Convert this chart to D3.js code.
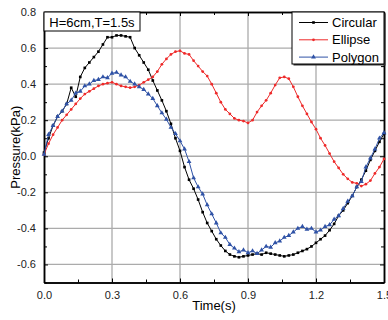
<!DOCTYPE html>
<html>
<head>
<meta charset="utf-8">
<script src="https://cdn.jsdelivr.net/npm/d3@7"></script>
<style>
  body { margin: 0; background: #fff; }
  svg { display: block; font-family: "Liberation Sans", Arial, sans-serif; }
</style>
</head>
<body>
<script>
// time axis, sampled every 0.02 s
const times = d3.range(0, 76).map(i => +(i * 0.02).toFixed(2));

const circular = [
  0.02, 0.10, 0.17, 0.22, 0.25, 0.29, 0.38, 0.33, 0.44, 0.49,
  0.52, 0.55, 0.58, 0.62, 0.66, 0.66, 0.67, 0.67, 0.665, 0.66,
  0.60, 0.56, 0.52, 0.48, 0.42, 0.365, 0.31, 0.25, 0.18, 0.10,
  0.03, -0.06, -0.13, -0.18, -0.24, -0.31, -0.37, -0.415, -0.46, -0.495,
  -0.525, -0.545, -0.555, -0.56, -0.555, -0.55, -0.545, -0.54, -0.545, -0.535,
  -0.54, -0.545, -0.55, -0.555, -0.55, -0.545, -0.535, -0.525, -0.515, -0.50,
  -0.48, -0.46, -0.44, -0.41, -0.375, -0.33, -0.30, -0.26, -0.22, -0.17,
  -0.13, -0.08, -0.02, 0.03, 0.08, 0.125
];

const ellipse = [
  0.01, 0.07, 0.12, 0.16, 0.20, 0.23, 0.26, 0.29, 0.32, 0.345,
  0.36, 0.375, 0.39, 0.40, 0.405, 0.41, 0.40, 0.39, 0.385, 0.38,
  0.385, 0.395, 0.41, 0.425, 0.44, 0.47, 0.51, 0.54, 0.565, 0.58,
  0.585, 0.57, 0.565, 0.53, 0.50, 0.47, 0.445, 0.40, 0.35, 0.30,
  0.26, 0.235, 0.21, 0.20, 0.195, 0.185, 0.20, 0.245, 0.28, 0.31,
  0.35, 0.395, 0.435, 0.44, 0.43, 0.385, 0.33, 0.28, 0.235, 0.19,
  0.15, 0.10, 0.06, 0.015, -0.03, -0.065, -0.10, -0.125, -0.145, -0.15,
  -0.165, -0.155, -0.135, -0.095, -0.06, -0.015
];

const polygon = [
  0.01, 0.12, 0.17, 0.22, 0.25, 0.29, 0.31, 0.35, 0.36, 0.39,
  0.40, 0.42, 0.425, 0.44, 0.435, 0.46, 0.465, 0.45, 0.44, 0.415,
  0.40, 0.385, 0.37, 0.345, 0.32, 0.28, 0.24, 0.205, 0.16, 0.125,
  0.085, 0.04, -0.03, -0.12, -0.17, -0.21, -0.27, -0.32, -0.37, -0.425,
  -0.45, -0.49, -0.51, -0.53, -0.52, -0.535, -0.525, -0.54, -0.52, -0.50,
  -0.505, -0.48, -0.47, -0.45, -0.44, -0.42, -0.40, -0.39, -0.405, -0.40,
  -0.42, -0.41, -0.39, -0.38, -0.35, -0.33, -0.29, -0.25, -0.22, -0.17,
  -0.14, -0.06, -0.01, 0.04, 0.10, 0.13
];

const seriesNames = ["Circular", "Ellipse", "Polygon"];
const seriesValues = [circular, ellipse, polygon];
const seriesColors = ["#000000", "#ee2a2a", "#2f52a6"];
const seriesSymbols = [d3.symbolSquare, d3.symbolCircle, d3.symbolTriangle];
const symbolSizes = [7, 6, 10];

const xTicks = [0.0, 0.3, 0.6, 0.9, 1.2, 1.5];
const yTicks = [-0.6, -0.4, -0.2, 0.0, 0.2, 0.4, 0.6, 0.8];
const xMinor = [0.15, 0.45, 0.75, 1.05, 1.35];
const yMinor = [-0.7, -0.5, -0.3, -0.1, 0.1, 0.3, 0.5, 0.7];

const margin = { top: 12, bottom: 37.5, left: 44, right: 4 };
const W = 388, H = 320;
const width = W - margin.left - margin.right;
const height = H - margin.top - margin.bottom;

const svg = d3.select("body").append("svg").attr("width", W).attr("height", H);
const g = svg.append("g").attr("transform", `translate(${margin.left},${margin.top})`);

const xscale = d3.scaleLinear().domain([0, 1.5]).range([0, width]);
const yscale = d3.scaleLinear().domain([-0.7, 0.8]).range([height, 0]);

// gridlines
g.append("g").selectAll("line").data(xTicks.slice(1, -1)).join("line")
  .attr("x1", d => xscale(d)).attr("x2", d => xscale(d))
  .attr("y1", 0).attr("y2", height)
  .attr("stroke", "#ababab").attr("stroke-width", 1.3);
g.append("g").selectAll("line").data(yTicks.filter(d => d < 0.8)).join("line")
  .attr("x1", 0).attr("x2", width)
  .attr("y1", d => yscale(d)).attr("y2", d => yscale(d))
  .attr("stroke", "#ababab").attr("stroke-width", 1.3);

// axes (ticks inward)
const fmt = d => d.toFixed(1);
g.append("g").attr("transform", `translate(0,${height})`)
  .call(d3.axisBottom(xscale).tickValues(xTicks).tickSizeInner(-4).tickSizeOuter(0).tickPadding(9).tickFormat(fmt));
g.append("g")
  .call(d3.axisLeft(yscale).tickValues(yTicks).tickSizeInner(-4).tickSizeOuter(0).tickPadding(8).tickFormat(fmt));
g.append("g")
  .call(d3.axisTop(xscale).tickValues(xTicks).tickSizeInner(-4).tickSizeOuter(0).tickFormat(""));
g.append("g").attr("transform", `translate(${width},0)`)
  .call(d3.axisRight(yscale).tickValues(yTicks).tickSizeInner(-4).tickSizeOuter(0).tickFormat(""));

// minor ticks
g.append("g").attr("transform", `translate(0,${height})`)
  .call(d3.axisBottom(xscale).tickValues(xMinor).tickSizeInner(-3).tickSizeOuter(0).tickFormat(""));
g.append("g")
  .call(d3.axisTop(xscale).tickValues(xMinor).tickSizeInner(-3).tickSizeOuter(0).tickFormat(""));
g.append("g")
  .call(d3.axisLeft(yscale).tickValues(yMinor).tickSizeInner(-3).tickSizeOuter(0).tickFormat(""));
g.append("g").attr("transform", `translate(${width},0)`)
  .call(d3.axisRight(yscale).tickValues(yMinor).tickSizeInner(-3).tickSizeOuter(0).tickFormat(""));

g.selectAll(".domain").attr("stroke", "#000").attr("stroke-width", 1.5);
g.selectAll(".tick line").attr("stroke", "#000");
g.selectAll(".tick text").attr("font-size", 11).attr("fill", "#222");

// lines + markers
const line = d3.line().x((d, i) => xscale(times[i])).y(d => yscale(d));
seriesValues.forEach((vals, k) => {
  g.append("path").datum(vals)
    .attr("fill", "none").attr("stroke", seriesColors[k]).attr("stroke-width", 1)
    .attr("d", line);
  g.append("g").selectAll("path").data(vals).join("path")
    .attr("transform", (d, i) => `translate(${xscale(times[i])},${yscale(d)})`)
    .attr("d", d3.symbol().type(seriesSymbols[k]).size(symbolSizes[k]))
    .attr("fill", seriesColors[k]);
});

// annotation box
const note = g.append("g");
note.append("rect").attr("x", 0).attr("y", 0).attr("width", 96).attr("height", 19)
  .attr("fill", "#fff").attr("stroke", "#000").attr("stroke-width", 1);
note.append("text").attr("x", 48).attr("y", 14.5).attr("text-anchor", "middle")
  .attr("font-size", 13).text("H=6cm,T=1.5s");

// legend
const legend = g.append("g").attr("transform", `translate(${width - 92},0)`);
legend.append("rect").attr("x", 1.5).attr("y", 1.5).attr("width", 92).attr("height", 52).attr("fill", "#333");
legend.append("rect").attr("x", 0).attr("y", 0).attr("width", 92).attr("height", 52)
  .attr("fill", "#fff").attr("stroke", "#000").attr("stroke-width", 1);
seriesNames.forEach((name, k) => {
  const yy = 10.5 + k * 17.3;
  legend.append("line").attr("x1", 7).attr("x2", 36).attr("y1", yy).attr("y2", yy)
    .attr("stroke", seriesColors[k]).attr("stroke-width", 1);
  legend.append("path").attr("transform", `translate(21.5,${yy})`)
    .attr("d", d3.symbol().type(seriesSymbols[k]).size(symbolSizes[k]))
    .attr("fill", seriesColors[k]);
  legend.append("text").attr("x", 40).attr("y", yy + 4.5).attr("font-size", 13).text(name);
});

// axis titles
svg.append("text").attr("transform", `translate(20,${margin.top + height / 2}) rotate(-90)`)
  .attr("text-anchor", "middle").attr("font-size", 13).text("Pressure(kPa)");
svg.append("text").attr("x", margin.left + width / 2).attr("y", 310)
  .attr("text-anchor", "middle").attr("font-size", 13).text("Time(s)");
</script>
</body>
</html>
